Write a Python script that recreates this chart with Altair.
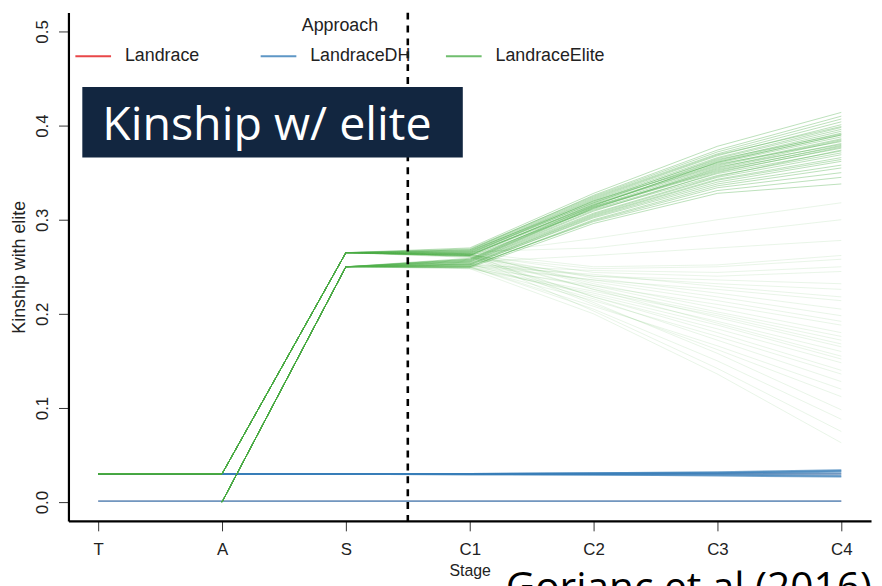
import json
import altair as alt
import pandas as pd

# ---------------- data ----------------
stages = ["T", "A", "S", "C1", "C2", "C3", "C4"]
approaches = ["Landrace", "LandraceDH", "LandraceElite"]
colors = ["#E41A1C", "#377EB8", "#4DAF4A"]
y_ticks = [0.0, 0.1, 0.2, 0.3, 0.4, 0.5]

# kinship at T, A, S for the two starting populations (None = not recorded)
start_high = [0.030, 0.030, 0.265]
start_low = [None, 0.000, 0.250]

# LandraceElite replicates, kinship at C1, C2, C3, C4
elite_band_high = [
    [0.264, 0.318, 0.362, 0.392], [0.266, 0.322, 0.368, 0.401], [0.268, 0.326, 0.374, 0.410],
    [0.262, 0.314, 0.352, 0.379], [0.265, 0.320, 0.360, 0.388], [0.270, 0.328, 0.378, 0.414],
    [0.263, 0.316, 0.358, 0.386], [0.267, 0.319, 0.365, 0.396], [0.261, 0.311, 0.349, 0.373],
    [0.268, 0.324, 0.370, 0.404], [0.262, 0.317, 0.359, 0.383], [0.266, 0.321, 0.366, 0.398],
    [0.263, 0.315, 0.361, 0.390], [0.265, 0.318, 0.363, 0.394], [0.269, 0.325, 0.372, 0.407],
    [0.264, 0.320, 0.364, 0.391], [0.267, 0.323, 0.369, 0.399], [0.262, 0.316, 0.357, 0.385],
]
elite_band_low = [
    [0.256, 0.312, 0.355, 0.384], [0.253, 0.305, 0.343, 0.366], [0.250, 0.300, 0.336, 0.355],
    [0.255, 0.309, 0.350, 0.377], [0.252, 0.303, 0.340, 0.362], [0.257, 0.313, 0.354, 0.381],
    [0.254, 0.306, 0.345, 0.369], [0.251, 0.298, 0.331, 0.345], [0.258, 0.315, 0.361, 0.390],
    [0.249, 0.296, 0.328, 0.338], [0.256, 0.310, 0.347, 0.371], [0.259, 0.314, 0.356, 0.380],
    [0.253, 0.304, 0.342, 0.364], [0.257, 0.312, 0.353, 0.378], [0.255, 0.307, 0.346, 0.374],
    [0.252, 0.302, 0.338, 0.358], [0.258, 0.313, 0.351, 0.376], [0.250, 0.299, 0.334, 0.350],
]
elite_fan_high = [
    [0.262, 0.248, 0.250, 0.258], [0.260, 0.240, 0.236, 0.232], [0.263, 0.238, 0.222, 0.205],
    [0.261, 0.226, 0.200, 0.172], [0.264, 0.232, 0.206, 0.180], [0.260, 0.218, 0.184, 0.148],
    [0.263, 0.226, 0.190, 0.155], [0.262, 0.210, 0.162, 0.112], [0.264, 0.212, 0.158, 0.098],
    [0.261, 0.203, 0.142, 0.075], [0.263, 0.244, 0.240, 0.245], [0.262, 0.234, 0.214, 0.192],
    [0.264, 0.230, 0.202, 0.176], [0.265, 0.250, 0.252, 0.262], [0.262, 0.218, 0.180, 0.140],
    [0.266, 0.270, 0.285, 0.300], [0.263, 0.280, 0.300, 0.318],
]
elite_fan_low = [
    [0.250, 0.230, 0.210, 0.188], [0.253, 0.236, 0.218, 0.198], [0.248, 0.222, 0.192, 0.160],
    [0.252, 0.228, 0.196, 0.165], [0.249, 0.214, 0.176, 0.136], [0.253, 0.216, 0.172, 0.128],
    [0.250, 0.205, 0.150, 0.088], [0.248, 0.200, 0.136, 0.063], [0.251, 0.242, 0.229, 0.218],
    [0.249, 0.224, 0.198, 0.168], [0.250, 0.220, 0.188, 0.152], [0.252, 0.246, 0.244, 0.250],
    [0.251, 0.236, 0.226, 0.214], [0.250, 0.208, 0.166, 0.120], [0.254, 0.240, 0.232, 0.226],
    [0.255, 0.262, 0.270, 0.278],
]

# LandraceDH and Landrace replicates, kinship at T..C4
dh_lines = [
    [0.030, 0.030, 0.030, 0.030, 0.031, 0.032, 0.034],
    [0.030, 0.030, 0.030, 0.030, 0.030, 0.031, 0.032],
    [0.030, 0.030, 0.030, 0.030, 0.030, 0.030, 0.030],
    [0.030, 0.030, 0.030, 0.029, 0.029, 0.029, 0.028],
    [0.030, 0.030, 0.030, 0.030, 0.031, 0.031, 0.033],
    [0.030, 0.030, 0.030, 0.030, 0.029, 0.028, 0.027],
    [0.001, 0.001, 0.001, 0.001, 0.001, 0.001, 0.001],
]
landrace_lines = [
    [0.030, 0.030, 0.030, 0.030, 0.030, 0.030, 0.030],
    [0.001, 0.001, 0.001, 0.001, 0.001, 0.001, 0.001],
]

scheme_split = 3.5  # vertical dashed line between S and C1

# ---------------- table ----------------
rows = []


def add(approach, tag, lines, alpha):
    for i, vals in enumerate(lines):
        for j, v in enumerate(vals):
            if v is None:
                continue
            rows.append({"approach": approach, "line": f"{tag}{i}", "stage": j + 1,
                         "kinship": v, "alpha": alpha})


add("Landrace", "l", landrace_lines, 0.25)
add("LandraceDH", "d", dh_lines, 0.7)
add("LandraceElite", "bh", [start_high + t for t in elite_band_high], 0.38)
add("LandraceElite", "bl", [start_low + t for t in elite_band_low], 0.38)
add("LandraceElite", "fh", [start_high + t for t in elite_fan_high], 0.13)
add("LandraceElite", "fl", [start_low + t for t in elite_fan_low], 0.13)
df = pd.DataFrame(rows)

FONT = "Liberation Sans"

x_enc = alt.X(
    "stage:Q",
    scale=alt.Scale(domain=[0.76, 7.24], nice=False, zero=False),
    axis=alt.Axis(values=list(range(1, len(stages) + 1)),
                  labelExpr=f"{json.dumps(stages)}[datum.value - 1]",
                  title="Stage", labelPadding=11, titlePadding=5),
)
y_enc = alt.Y(
    "kinship:Q",
    scale=alt.Scale(domain=[-0.02, 0.52], nice=False, zero=False),
    axis=alt.Axis(values=y_ticks, format=".1f", labelAngle=-90, labelAlign="center",
                  labelBaseline="bottom", labelPadding=7, title="Kinship with elite",
                  titlePadding=5, titleFontSize=18),
)
color_enc = alt.Color(
    "approach:N",
    scale=alt.Scale(domain=approaches, range=colors),
    legend=alt.Legend(
        title="Approach", orient="none", legendX=6, legendY=5, direction="horizontal",
        titleOrient="top", titleAnchor="middle", titlePadding=2,
        symbolType="stroke", symbolSize=1296, symbolStrokeWidth=2, symbolOpacity=0.8,
        labelFontSize=18, titleFontSize=18, titleFontWeight="normal",
        labelFont=FONT, titleFont=FONT, labelColor="#222", titleColor="#222",
        columnPadding=22, labelOffset=13, padding=0, gridAlign="all",
    ),
)

base = alt.Chart(df)


def lines_layer(approach, width):
    return base.transform_filter(alt.datum.approach == approach).mark_line(
        strokeWidth=width
    ).encode(x=x_enc, y=y_enc, color=color_enc, detail="line:N",
             opacity=alt.Opacity("alpha:Q", scale=None))


split_df = pd.DataFrame({"x": [scheme_split]})
rule = alt.Chart(split_df).mark_rule(color="black", strokeWidth=2.6, strokeDash=[7, 6]).encode(
    x="x:Q")

ann_df = pd.DataFrame({"x": [0.872], "x2": [3.944], "y": [0.441], "y2": [0.366]})
box = alt.Chart(ann_df).mark_rect(color="#122640").encode(
    x="x:Q", x2="x2:Q", y="y:Q", y2="y2:Q")

lab_df = pd.DataFrame({"x": [1.032], "y": [0.385], "t": ["Kinship w/ elite"]})
label = alt.Chart(lab_df).mark_text(
    align="left", baseline="alphabetic", font="Open Sans", fontSize=47, color="white"
).encode(x="x:Q", y="y:Q", text="t:N")

cite_df = pd.DataFrame({"x": [4.29], "y": [-0.105], "t": ["Gorjanc et al (2016)"]})
cite = alt.Chart(cite_df).mark_text(
    align="left", baseline="alphabetic", font="Open Sans", fontSize=41, color="black"
).encode(x="x:Q", y="y:Q", text="t:N")

chart = alt.layer(
    lines_layer("Landrace", 1.2),
    lines_layer("LandraceDH", 1.6),
    lines_layer("LandraceElite", 1.0),
    rule, box, label, cite,
).properties(
    width=810, height=513,
    autosize=alt.AutoSizeParams(type="none"),
    padding={"left": 61, "top": 2, "right": 3, "bottom": 63},
    background="white",
).configure_view(stroke=None).configure_axis(
    grid=False, domainColor="black", domainWidth=2.2, tickColor="#333", tickWidth=1,
    tickSize=10, labelFont=FONT, labelFontSize=17, labelColor="#222",
    titleFont=FONT, titleFontSize=16, titleFontWeight="normal", titleColor="#222",
)

chart.save("out.html", embed_options={"renderer": "svg", "actions": False})
